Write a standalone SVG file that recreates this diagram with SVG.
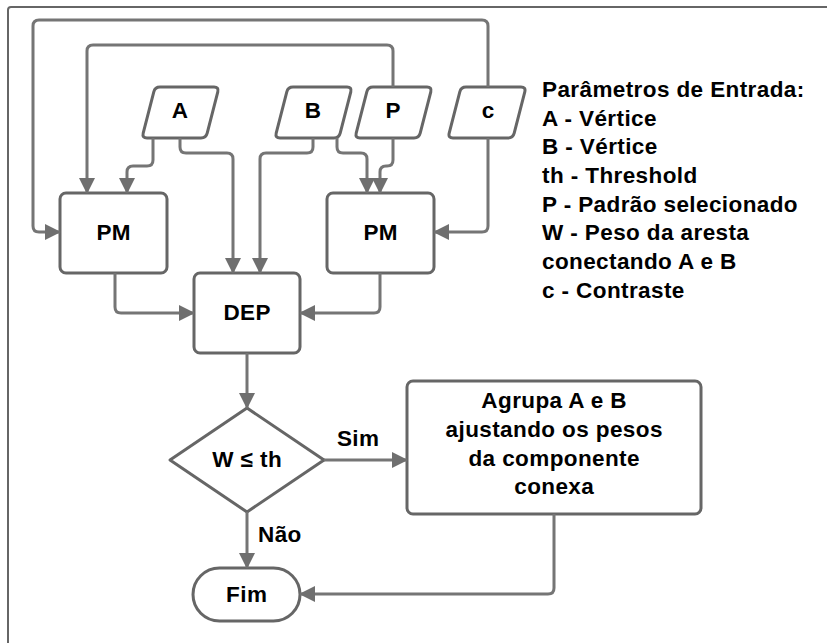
<svg xmlns="http://www.w3.org/2000/svg" width="827" height="643" viewBox="0 0 827 643">
  <style>
    .node { fill: #ffffff; stroke: #666666; stroke-width: 3; stroke-linejoin: round; }
    .frame { fill: none; stroke: #666666; stroke-width: 2; }
    .edge { fill: none; stroke: #757575; stroke-width: 3; stroke-linejoin: round; }
    .lbl { font-family: "Liberation Sans", Arial, sans-serif; font-weight: bold; font-size: 22.5px; letter-spacing: 0.4px; fill: #000000; }
    .mid { text-anchor: middle; }
  </style>
  <defs>
    <marker id="arrow" viewBox="0 0 16 16" refX="15" refY="8" markerWidth="16" markerHeight="16" markerUnits="userSpaceOnUse" orient="auto">
      <path d="M0,0 L16,8 L0,16 Z" fill="#6f6f6f"/>
    </marker>
  </defs>

  <rect width="827" height="643" fill="#ffffff"/>
  <!-- page frame -->
  <rect class="frame" x="8" y="7" width="900" height="700" rx="3"/>

  <!-- inputs (rounded parallelograms) -->
  <g id="input-A">
    <path class="node" d="M160,87 H214 Q219,87 217.8,91.8 L207.2,133.2 Q206,138 201,138 H147 Q142,138 143.2,133.2 L153.8,91.8 Q155,87 160,87 Z"/>
    <text class="lbl mid" x="180.2" y="118">A</text>
  </g>
  <g id="input-B">
    <path class="node" d="M293,87 H347 Q352,87 350.8,91.8 L340.2,133.2 Q339,138 334,138 H280 Q275,138 276.2,133.2 L286.8,91.8 Q288,87 293,87 Z"/>
    <text class="lbl mid" x="313.2" y="118">B</text>
  </g>
  <g id="input-P">
    <path class="node" d="M373,87 H427 Q432,87 430.8,91.8 L420.2,133.2 Q419,138 414,138 H360 Q355,138 356.2,133.2 L366.8,91.8 Q368,87 373,87 Z"/>
    <text class="lbl mid" x="393.2" y="118">P</text>
  </g>
  <g id="input-c">
    <path class="node" d="M466,87 H521 Q526,87 524.8,91.8 L514.2,133.2 Q513,138 508,138 H453 Q448,138 449.2,133.2 L459.8,91.8 Q461,87 466,87 Z"/>
    <text class="lbl mid" x="488.2" y="118">c</text>
  </g>

  <!-- processes -->
  <g id="pm-left">
    <rect class="node" x="60" y="193" width="107" height="80" rx="6"/>
    <text class="lbl mid" x="113.7" y="240">PM</text>
  </g>
  <g id="pm-right">
    <rect class="node" x="327" y="193" width="107" height="80" rx="6"/>
    <text class="lbl mid" x="380.7" y="240">PM</text>
  </g>
  <g id="dep">
    <rect class="node" x="194" y="273" width="106" height="80" rx="6"/>
    <text class="lbl mid" x="247.2" y="320">DEP</text>
  </g>

  <!-- decision -->
  <g id="decision">
    <polygon class="node" points="247,408 324,460 247,512 170,460"/>
    <text class="lbl mid" x="247.2" y="467">W ≤ th</text>
  </g>

  <g id="group-step">
    <rect class="node" x="407" y="381" width="294" height="133" rx="6"/>
    <text class="lbl mid" x="554.2" y="408">Agrupa A e B</text>
    <text class="lbl mid" x="554.2" y="437">ajustando os pesos</text>
    <text class="lbl mid" x="554.2" y="466">da componente</text>
    <text class="lbl mid" x="554.2" y="494">conexa</text>
  </g>

  <g id="end">
    <rect class="node" x="193" y="568" width="107" height="53" rx="26.5"/>
    <text class="lbl mid" x="246.7" y="602">Fim</text>
  </g>

  <!-- legend -->
  <g id="legend">
    <text class="lbl" x="542" y="97">Parâmetros de Entrada:</text>
    <text class="lbl" x="542" y="126">A - Vértice</text>
    <text class="lbl" x="542" y="154">B - Vértice</text>
    <text class="lbl" x="542" y="183">th - Threshold</text>
    <text class="lbl" x="542" y="212">P - Padrão selecionado</text>
    <text class="lbl" x="542" y="240">W - Peso da aresta</text>
    <text class="lbl" x="542" y="269">conectando A e B</text>
    <text class="lbl" x="542" y="298">c - Contraste</text>
  </g>

  <!-- connectors -->
  <g id="connectors">
    <path class="edge" marker-end="url(#arrow)" d="M488,87 V26 Q488,20 482,20 H39 Q33,20 33,26 V226 Q33,232 39,232 H60"/>
    <path class="edge" marker-end="url(#arrow)" d="M393,87 V51 Q393,45 387,45 H93 Q87,45 87,51 V193"/>
    <path class="edge" marker-end="url(#arrow)" d="M153,138 V160 Q153,166 147,166 H133 Q127,166 127,172 V193"/>
    <path class="edge" marker-end="url(#arrow)" d="M180,138 V147 Q180,153 186,153 H227 Q233,153 233,159 V273"/>
    <path class="edge" marker-end="url(#arrow)" d="M313,138 V147 Q313,153 307,153 H266 Q260,153 260,159 V273"/>
    <path class="edge" marker-end="url(#arrow)" d="M337,138 V147 Q337,153 343,153 H361 Q367,153 367,159 V193"/>
    <path class="edge" marker-end="url(#arrow)" d="M393,138 V160 Q393,166 387,166 H386 Q380,166 380,172 V193"/>
    <path class="edge" marker-end="url(#arrow)" d="M488,138 V226 Q488,232 482,232 H434"/>
    <path class="edge" marker-end="url(#arrow)" d="M115,273 V307 Q115,313 121,313 H194"/>
    <path class="edge" marker-end="url(#arrow)" d="M380,273 V307 Q380,313 374,313 H300"/>
    <path class="edge" marker-end="url(#arrow)" d="M247,353 V408"/>
    <path class="edge" marker-end="url(#arrow)" d="M324,460 H407"/>
    <path class="edge" marker-end="url(#arrow)" d="M247,512 V568"/>
    <path class="edge" marker-end="url(#arrow)" d="M554,514 V588 Q554,594 548,594 H300"/>
    <text class="lbl mid" x="358.2" y="446">Sim</text>
    <text class="lbl" x="258" y="542">Não</text>
  </g>
</svg>
